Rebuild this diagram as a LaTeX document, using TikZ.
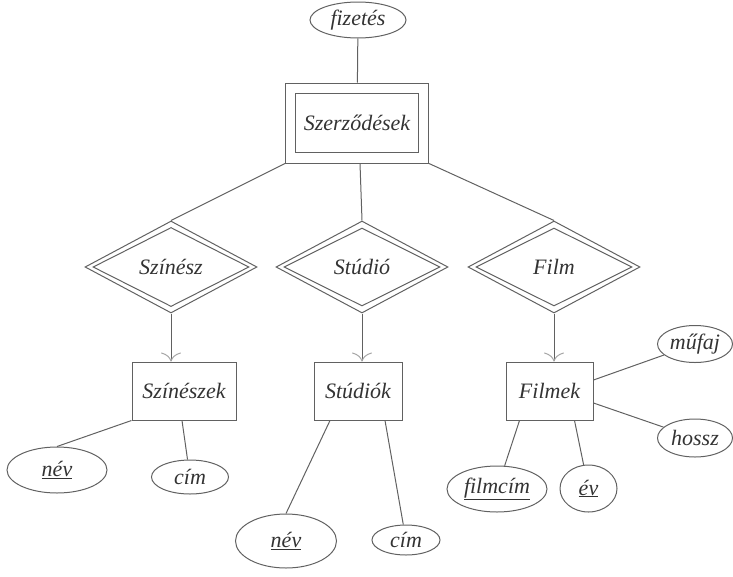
\documentclass[tikz,border=0pt]{standalone}
\usepackage{fontspec}
\setmainfont{Liberation Serif}
\usetikzlibrary{shapes.geometric,arrows.meta}
\definecolor{ink}{gray}{0.2}
\definecolor{edge}{gray}{0.38}
\begin{document}
\begin{tikzpicture}[x=1pt,y=-1pt,
  every node/.style={font=\fontsize{22}{26}\selectfont\itshape, text=ink, inner sep=0pt},
  rect/.style={draw=edge, line width=1pt, rectangle},
  attr/.style={draw=edge, line width=1pt, ellipse},
  rel/.style={draw=edge, line width=1pt, diamond},
  link/.style={draw=edge, line width=1pt},
  isa/.style={link, -{To[length=9pt,width=20pt,line width=1pt,color=black!35]}}
]
\useasboundingbox (0,0) rectangle (733,576);

% weak entity set with its double border
\node[rect, minimum width=143, minimum height=80] (szer) at (357,123) {};
\node[rect, minimum width=123, minimum height=59] (szerin) at (szer) {Szerződések};
\node[attr, minimum width=96, minimum height=36] (fiz) at (358,20) {fizetés};

% supporting relationships (double diamonds)
\foreach \n/\x/\t in {szinesz/171/Színész, studio/362/Stúdió, film/554/Film}{
  \node[rel, minimum width=172, minimum height=92] (\n) at (\x,267) {};
  \node[rel, minimum width=156, minimum height=78] at (\n) {\t};
}

% entity sets
\node[rect, minimum width=104, minimum height=58] (szineszek) at (184,391) {Színészek};
\node[rect, minimum width=88, minimum height=58] (studiok) at (358,391) {Stúdiók};
\node[rect, minimum width=87, minimum height=58] (filmek) at (549.5,391) {Filmek};

% attributes
\node[attr, minimum width=100, minimum height=46] (nev1) at (57,470) {\underline{név}};
\node[attr, minimum width=77, minimum height=34] (cim1) at (190,477) {cím};
\node[attr, minimum width=101, minimum height=54] (nev2) at (286,541) {\underline{név}};
\node[attr, minimum width=68, minimum height=30] (cim2) at (406,540) {cím};
\node[attr, minimum width=100, minimum height=46] (filmcim) at (497,489) {\underline{filmcím}};
\node[attr, minimum width=57, minimum height=47] (ev) at (588.5,488.5) {\underline{év}};
\node[attr, minimum width=75, minimum height=37] (mufaj) at (695,344) {műfaj};
\node[attr, minimum width=75, minimum height=38] (hossz) at (695,438) {hossz};

% connectors
\draw[link] (fiz) -- (szer);
\draw[link] (szer.south west) -- (szinesz.north);
\draw[link] ([xshift=3]szer.south) -- (studio.north);
\draw[link] (szer.south east) -- (film.north);

\draw[isa] (szinesz.south) -- (szinesz.south |- szineszek.north);
\draw[isa] (studio.south) -- (studio.south |- studiok.north);
\draw[isa] (film.south) -- (film.south |- filmek.north);

\draw[link] (szineszek.south west) -- (nev1.north);
\draw[link] ([xshift=-2]szineszek.south) -- (cim1);
\draw[link] ([xshift=-28]studiok.south) -- (nev2.north);
\draw[link] ([xshift=27]studiok.south) -- (cim2);
\draw[link] ([xshift=-30]filmek.south) -- (filmcim);
\draw[link] ([xshift=25]filmek.south) -- (ev);
\draw[link] ([yshift=11]filmek.east) -- (mufaj);
\draw[link] ([yshift=-12]filmek.east) -- (hossz);
\end{tikzpicture}
\end{document}
